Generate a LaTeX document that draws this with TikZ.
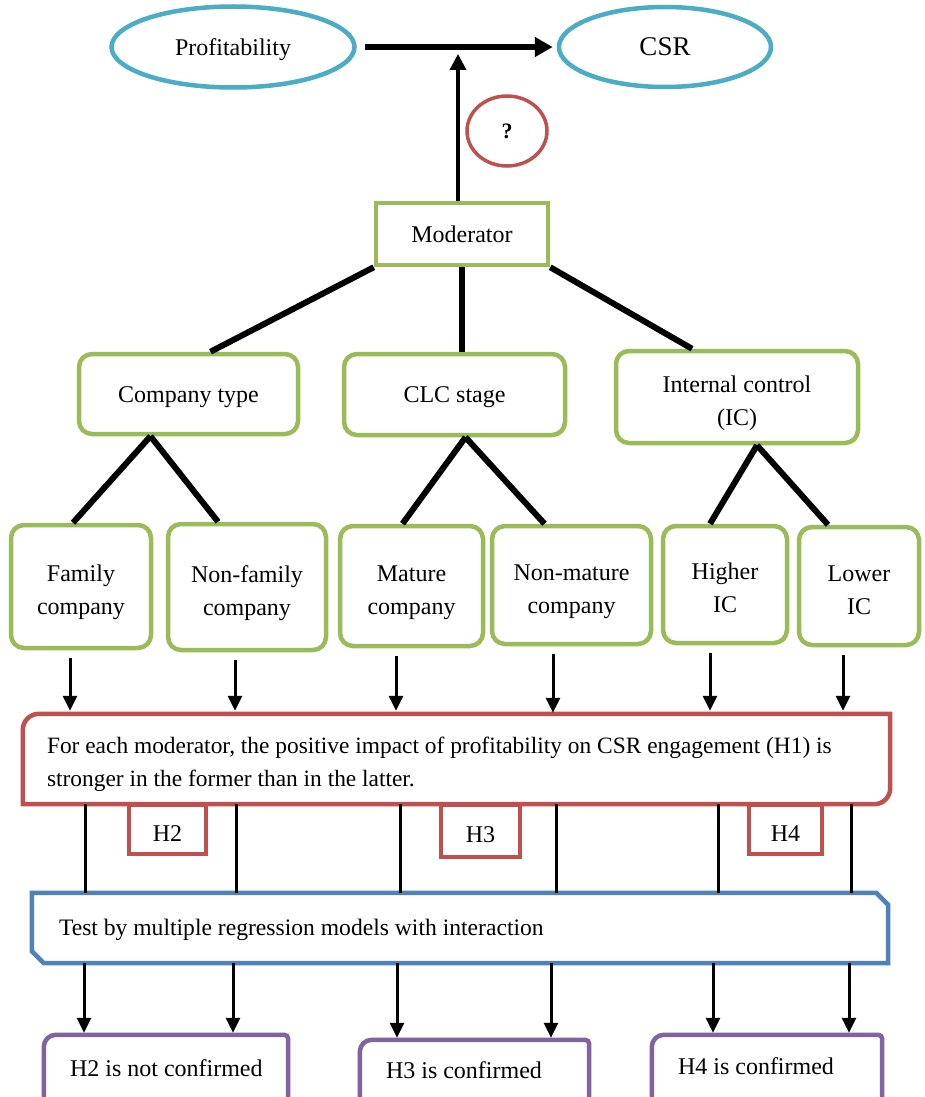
\documentclass[tikz,border=0pt]{standalone}
\usepackage{fontspec}
\setmainfont{Liberation Serif}
\usetikzlibrary{arrows.meta,shapes.geometric,calc}
\definecolor{cyanc}{HTML}{4BACC6}
\definecolor{redc}{HTML}{C0504D}
\definecolor{greenc}{HTML}{9BBB59}
\definecolor{bluec}{HTML}{4F81BD}
\definecolor{purplec}{HTML}{8064A2}
\newcommand{\shiftdown}[2]{\raisebox{-#1}[\height][\depth]{#2}}
\newcommand{\twolines}[2]{\shiftdown{5pt}{\begin{tabular}{@{}c@{}}#1\\#2\end{tabular}}}
\newcommand{\lowered}[1]{\shiftdown{3pt}{#1}}
\begin{document}
\begin{tikzpicture}[x=1pt,y=-1pt,
  every node/.style={font=\fontsize{24}{33}\selectfont},
  ellipsebox/.style={ellipse, draw=cyanc, line width=4.5pt, fill=white, inner sep=0pt},
  qbox/.style={ellipse, draw=redc, line width=3.5pt, fill=white, inner sep=0pt, font=\bfseries\fontsize{22}{26}\selectfont},
  modbox/.style={draw=greenc, line width=4.5pt, fill=white, inner sep=0pt},
  gbox/.style={draw=greenc, line width=4.5pt, fill=white, rounded corners=13pt, align=center, inner sep=0pt},
  htab/.style={draw=redc, line width=4pt, fill=white, inner sep=0pt},
  bigbox/.style={fill=white, inner sep=0pt},
  pbox/.style={fill=white, inner sep=0pt},
  treeline/.style={line width=6pt},
  plainline/.style={line width=3pt},
  downarr/.style={line width=3pt, -{Triangle[width=14pt,length=15pt]}},
  redline/.style={draw=redc, line width=4.5pt},
  blueline/.style={draw=bluec, line width=4.5pt},
  purpleline/.style={draw=purplec, line width=4.5pt}
]
\useasboundingbox (0,0) rectangle (924,1097);
\clip (0,0) rectangle (924,1097);
\fill[white] (0,0) rectangle (924,1097);

% top row
\node[ellipsebox, minimum width=243pt, minimum height=81pt] (prof) at (233,47) {\lowered{Profitability}};
\node[ellipsebox, minimum width=212pt, minimum height=80pt, font=\fontsize{27}{30}\selectfont] (csr) at (665,47) {CSR};
\node[qbox, minimum width=80pt, minimum height=70pt] (q) at (507,131) {?};

% moderator tree
\node[modbox, minimum width=172pt, minimum height=62pt] (mod) at (462,234) {Moderator};
\node[gbox, minimum width=219pt, minimum height=80pt] (ctype) at (188.5,394) {\lowered{Company type}};
\node[gbox, minimum width=221pt, minimum height=81pt] (clc) at (454.5,394.5) {\lowered{CLC stage}};
\node[gbox, minimum width=242pt, minimum height=92pt] (ic) at (737,397) {\twolines{Internal control}{(IC)}};
\node[gbox, minimum width=140pt, minimum height=123pt] (fam) at (81,586.5) {\twolines{Family}{company}};
\node[gbox, minimum width=158pt, minimum height=126pt] (nfam) at (247,587) {\twolines{Non-family}{company}};
\node[gbox, minimum width=143pt, minimum height=120pt] (mat) at (411.5,586) {\twolines{Mature}{company}};
\node[gbox, minimum width=159pt, minimum height=118pt] (nmat) at (571.5,585) {\twolines{Non-mature}{company}};
\node[gbox, minimum width=124pt, minimum height=117pt] (hic) at (725,584.5) {\twolines{Higher}{IC}};
\node[gbox, minimum width=120pt, minimum height=118pt] (lic) at (859,586) {\twolines{Lower}{IC}};

% H tabs (behind the red box)
\node[htab, minimum width=77pt, minimum height=49pt] (h2) at (167.5,829.5) {\shiftdown{4pt}{H2}};
\node[htab, minimum width=79pt, minimum height=52pt] (h3) at (480.5,831) {\shiftdown{4pt}{H3}};
\node[htab, minimum width=73pt, minimum height=49pt] (h4) at (785.5,829.5) {\shiftdown{4pt}{H4}};

% red hypothesis box
\node[bigbox, minimum width=867pt, minimum height=90pt, font=\fontsize{23.4}{33}\selectfont] (red) at (456.5,759)
  {\makebox[819pt][l]{\shiftdown{4pt}{\begin{tabular}{@{}l@{}}For each moderator, the positive impact of profitability on CSR engagement (H1) is\\stronger in the former than in the latter.\end{tabular}}}};
\draw[redline] (red.north) [rounded corners=16pt] -| (red.west) [sharp corners] |- (red.south)
  [rounded corners=16pt] -| (red.east) [sharp corners] |- (red.north);

% blue test box
\node[bigbox, minimum width=856pt, minimum height=70pt, font=\fontsize{23.6}{33}\selectfont] (blue) at (460,928)
  {\makebox[802pt][l]{\shiftdown{2pt}{Test by multiple regression models with interaction}}};
\draw[blueline] ($(blue.north east)+(-12,0)$) -- ($(blue.north east)+(0,12)$) -- (blue.south east)
  -- ($(blue.south west)+(12,0)$) -- ($(blue.south west)+(0,-12)$) -- (blue.north west) -- cycle;

% purple result boxes
\node[pbox, minimum width=244pt, minimum height=66pt] (p2) at (166,1068) {\makebox[192pt][l]{H2 is not confirmed}};
\node[pbox, minimum width=229pt, minimum height=62pt] (p3) at (474.5,1071) {\makebox[177pt][l]{\shiftdown{-1pt}{H3 is confirmed}}};
\node[pbox, minimum width=230pt, minimum height=66pt] (p4) at (767,1068) {\makebox[178pt][l]{\shiftdown{-2pt}{H4 is confirmed}}};
\foreach \p in {p2,p3,p4}{
  \draw[purpleline] (\p.south west) [rounded corners=12pt] |- (\p.north) [rounded corners=4pt] -| (\p.south east);
}

% column coordinates
\coordinate (hit) at (458,54);
\coordinate (c1) at (70,0);  \coordinate (c2) at (235,0); \coordinate (c3) at (396,0);
\coordinate (c4) at (553,0); \coordinate (c5) at (710,0); \coordinate (c6) at (843,0);
\coordinate (d1) at (85,0);  \coordinate (d2) at (236,0); \coordinate (d3) at (400,0);
\coordinate (d4) at (556,0); \coordinate (d5) at (718,0); \coordinate (d6) at (851,0);
\coordinate (e1) at (84,0);  \coordinate (e2) at (233,0); \coordinate (e3) at (397,0);
\coordinate (e4) at (551,0); \coordinate (e5) at (713,0); \coordinate (e6) at (849,0);

% top connectors
\draw[line width=6.5pt, -{Triangle[width=19pt,length=18pt]}, shorten <=8pt, shorten >=4pt] (prof.east) -- (csr.west);
\draw[line width=3.5pt, -{Triangle[width=16pt,length=16pt]}] (mod.north -| hit) -- (hit);

% tree lines
\draw[treeline] (mod.south west) -- ([xshift=22pt]ctype.north);
\draw[treeline] (mod.south) -- (mod.south |- clc.north);
\draw[treeline] (mod.south east) -- ([xshift=-45pt]ic.north);
\draw[treeline] ([xshift=-38pt]ctype.south) -- ([xshift=-8pt]fam.north);
\draw[treeline] ([xshift=-38pt]ctype.south) -- ([xshift=-29pt]nfam.north);
\draw[treeline] ([xshift=11pt]clc.south) -- ([xshift=-9pt]mat.north);
\draw[treeline] ([xshift=11pt]clc.south) -- ([xshift=-27pt]nmat.north);
\draw[treeline] ([xshift=20pt]ic.south) -- ([xshift=-15pt]hic.north);
\draw[treeline] ([xshift=20pt]ic.south) -- ([xshift=-31pt]lic.north);

% arrows into the red box
\draw[downarr, shorten <=8pt, shorten >=3pt] (fam.south -| c1) -- (red.north -| c1);
\draw[downarr, shorten <=8pt, shorten >=3pt] (nfam.south -| c2) -- (red.north -| c2);
\draw[downarr, shorten <=8pt, shorten >=3pt] (mat.south -| c3) -- (red.north -| c3);
\draw[downarr, shorten <=8pt, shorten >=1pt] (nmat.south -| c4) -- (red.north -| c4);
\draw[downarr, shorten <=8pt, shorten >=3pt] (hic.south -| c5) -- (red.north -| c5);
\draw[downarr, shorten <=8pt, shorten >=3pt] (lic.south -| c6) -- (red.north -| c6);

% lines red -> blue
\foreach \d in {d1,d2,d3,d4,d5,d6}{
  \draw[plainline] (red.south -| \d) -- (blue.north -| \d);
}

% arrows blue -> results
\draw[downarr, shorten >=2pt] (blue.south -| e1) -- (p2.north -| e1);
\draw[downarr, shorten >=2pt] (blue.south -| e2) -- (p2.north -| e2);
\draw[downarr, shorten >=2pt] (blue.south -| e3) -- (p3.north -| e3);
\draw[downarr, shorten >=2pt] (blue.south -| e4) -- (p3.north -| e4);
\draw[downarr, shorten >=2pt] (blue.south -| e5) -- (p4.north -| e5);
\draw[downarr, shorten >=2pt] (blue.south -| e6) -- (p4.north -| e6);
\end{tikzpicture}
\end{document}
